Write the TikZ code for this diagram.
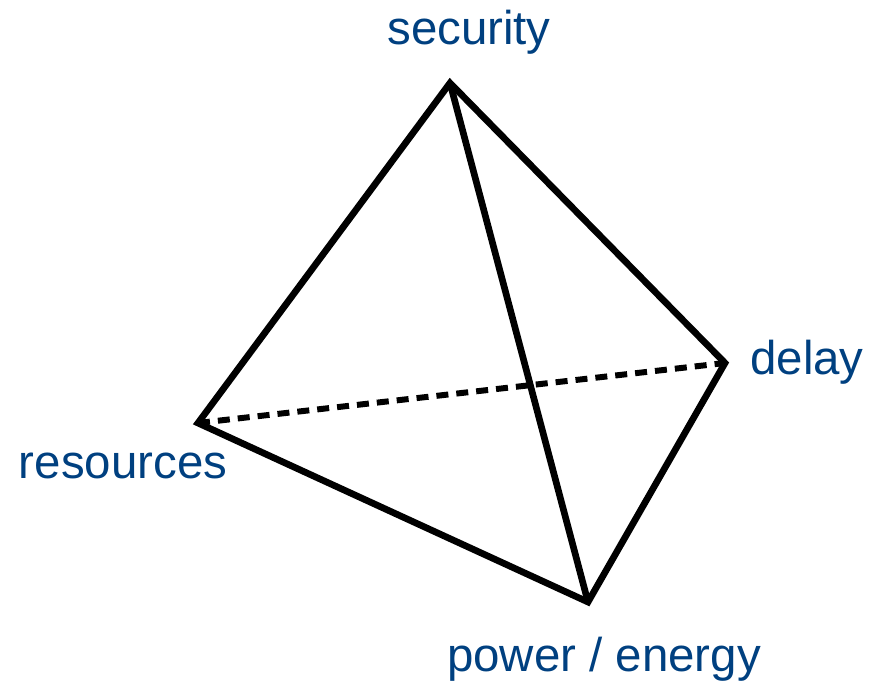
\documentclass[tikz,border=0pt]{standalone}
\usepackage{fontspec}
\setmainfont{Liberation Sans}
\definecolor{labelblue}{RGB}{0,64,128}

\begin{document}
\begin{tikzpicture}[
    x=0.02cm, y=-0.02cm,
    edge/.style={line width=3.8pt, line join=miter, line cap=butt},
    hidden/.style={line width=3.4pt, dash pattern=on 0.24cm off 0.16cm},
    tag/.style={text=labelblue, anchor=base, inner sep=0pt,
                font=\fontsize{27}{32}\selectfont}
]
\useasboundingbox (0,0) rectangle (881,682);

% Corners of the tetrahedron
\coordinate (sec) at (450,83);
\coordinate (del) at (725,363);
\coordinate (res) at (198,423);
\coordinate (pow) at (588,602);

% Labels
\node[tag] (seclabel) at (469,45) {security};
\node[tag] (dellabel) at (807,374) {delay};
\node[tag] (reslabel) at (123,478) {resources};
\node[tag] (powlabel) at (604,671) {power / energy};

% Hidden edge
\draw[hidden] (res) -- (del);

% Visible edges
\draw[edge] (sec) -- (res) -- (pow) -- (del) -- cycle;
\draw[edge] (sec) -- (pow);

\end{tikzpicture}
\end{document}
